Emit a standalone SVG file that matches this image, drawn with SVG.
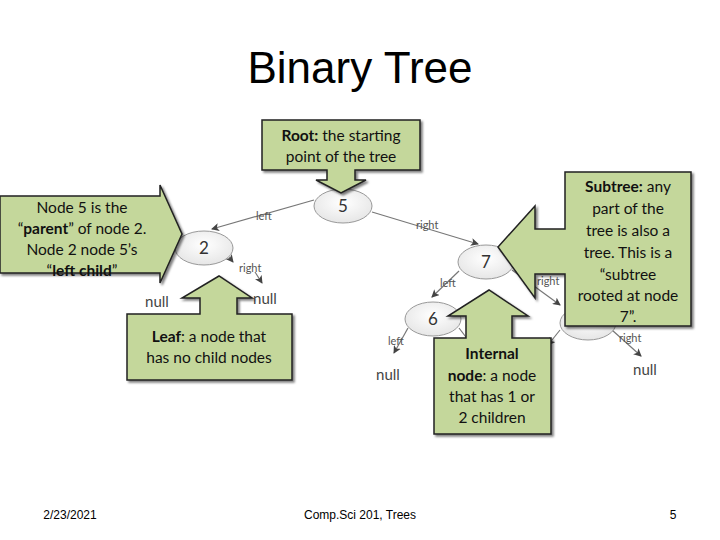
<svg xmlns="http://www.w3.org/2000/svg" width="720" height="540" viewBox="0 0 720 540">
<defs>
<marker id="ah" markerWidth="8" markerHeight="8" refX="7" refY="4" orient="auto" markerUnits="userSpaceOnUse"><path d="M0,0 L8,4 L0,8 L2,4 z" fill="#444"/></marker>
<filter id="sh" x="-10%" y="-10%" width="130%" height="130%"><feDropShadow dx="2" dy="2" stdDeviation="1" flood-color="#000" flood-opacity="0.5"/></filter>
<radialGradient id="ng" cx="50%" cy="40%" r="60%"><stop offset="0" stop-color="#ffffff"/><stop offset="1" stop-color="#e6e6e6"/></radialGradient>
</defs>
<style>
.t{font-family:"Liberation Sans",Arial,sans-serif;fill:#000}
.n ellipse{fill:url(#ng);stroke:#999;stroke-width:1}
.n text{font-family:Lato,"Open Sans",sans-serif;font-size:17px;fill:#333;text-anchor:middle}
.e{stroke:#777;stroke-width:1.2;fill:none;marker-end:url(#ah)}
.el{font-family:Lato,"Open Sans",sans-serif;font-size:11px;fill:#555}
.nl{font-family:Lato,"Open Sans",sans-serif;font-size:15px;fill:#444;text-anchor:middle}
.c path{fill:#c4d79b;stroke:#222;stroke-width:1.5;filter:url(#sh)}
.c text{font-family:Lato,"Open Sans",sans-serif;font-size:15.5px;fill:#111;text-anchor:middle}
.b{font-weight:bold}
</style>
<rect width="720" height="540" fill="#fff"/>
<text class="t" x="360" y="83" font-size="44" text-anchor="middle">Binary Tree</text>

<g id="connectors">
<path class="e" d="M314,200 L212,229"/><text class="el" x="256" y="220">left</text>
<path class="e" d="M372,212 L478,244"/><text class="el" x="416" y="229">right</text>
<path class="e" d="M229,257 L233,262"/><path class="e" d="M255,272 L262,283"/><text class="el" x="239" y="272">right</text>
<path class="e" d="M459,271 L432,297"/><text class="el" x="440" y="287">left</text>
<path class="e" d="M512,270 L560,305"/><text class="el" x="537" y="285">right</text>
<path class="e" d="M408,328 L394,353"/><text class="el" x="388" y="345">left</text>
<path class="e" d="M459,328 L472,345"/>
<path class="e" d="M612,330 L641,356"/><text class="el" x="619" y="342">right</text>
<path class="e" d="M560,330 L548,345"/>
</g>

<g id="n5" class="n"><ellipse cx="343" cy="206" rx="29" ry="17"/><text x="343" y="212">5</text></g>
<g id="n2" class="n"><ellipse cx="204" cy="248" rx="29" ry="17"/><text x="204" y="254">2</text></g>
<g id="n7" class="n"><ellipse cx="486" cy="262" rx="28" ry="17"/><text x="486" y="268">7</text></g>
<g id="n6" class="n"><ellipse cx="433" cy="319" rx="28" ry="17"/><text x="433" y="325">6</text></g>
<g id="n8" class="n"><ellipse cx="588" cy="323" rx="28" ry="17"/></g>
<g id="nulls">
<text class="nl" x="157" y="307">null</text>
<text class="nl" x="265" y="304">null</text>
<text class="nl" x="388" y="380">null</text>
<text class="nl" x="645" y="375">null</text>
</g>

<g id="c-root" class="c">
<path d="M262,120 H420 V170 H355 V180 H366 L341,193 L316,180 H327 V170 H262 Z"/>
<text x="341" y="141"><tspan class="b">Root:</tspan> the starting</text>
<text x="341" y="162">point of the tree</text>
</g>
<g id="c-parent" class="c">
<path d="M0,196 H160 V185 L182,234 L160,283 V273 H0 Z"/>
<text x="82" y="213">Node 5 is the</text>
<text x="82" y="234">“<tspan class="b">parent</tspan>” of node 2.</text>
<text x="82" y="255">Node 2 node 5’s</text>
<text x="82" y="276">“<tspan class="b">left child</tspan>”</text>
</g>
<g id="c-leaf" class="c">
<path d="M127,314 H200 V298 H182 L219,276 L252,298 H237 V314 H292 V380 H127 Z"/>
<text x="209" y="342"><tspan class="b">Leaf</tspan>: a node that</text>
<text x="209" y="363">has no child nodes</text>
</g>
<g id="c-internal" class="c">
<path d="M434,338 H466 V316 H448 L489,290 L528,316 H512 V338 H551 V434 H434 Z"/>
<text x="492" y="359" class="b">Internal</text>
<text x="492" y="381"><tspan class="b">node</tspan>: a node</text>
<text x="492" y="402">that has 1 or</text>
<text x="492" y="423">2 children</text>
</g>
<g id="c-subtree" class="c">
<path d="M565,172 H691 V326 H565 V274 H535 V298 L498,247 L535,206 V229 H565 Z"/>
<text x="628" y="192"><tspan class="b">Subtree:</tspan> any</text>
<text x="628" y="214">part of the</text>
<text x="628" y="236">tree is also a</text>
<text x="628" y="258">tree.  This is a</text>
<text x="628" y="280">“subtree</text>
<text x="628" y="301">rooted at node</text>
<text x="628" y="322">7”.</text>
</g>

<text class="t" x="70" y="519" font-size="12" text-anchor="middle" fill="#333">2/23/2021</text>
<text class="t" x="360" y="519" font-size="12" text-anchor="middle">Comp.Sci 201, Trees</text>
<text class="t" x="673" y="519" font-size="12" text-anchor="middle">5</text>
</svg>
